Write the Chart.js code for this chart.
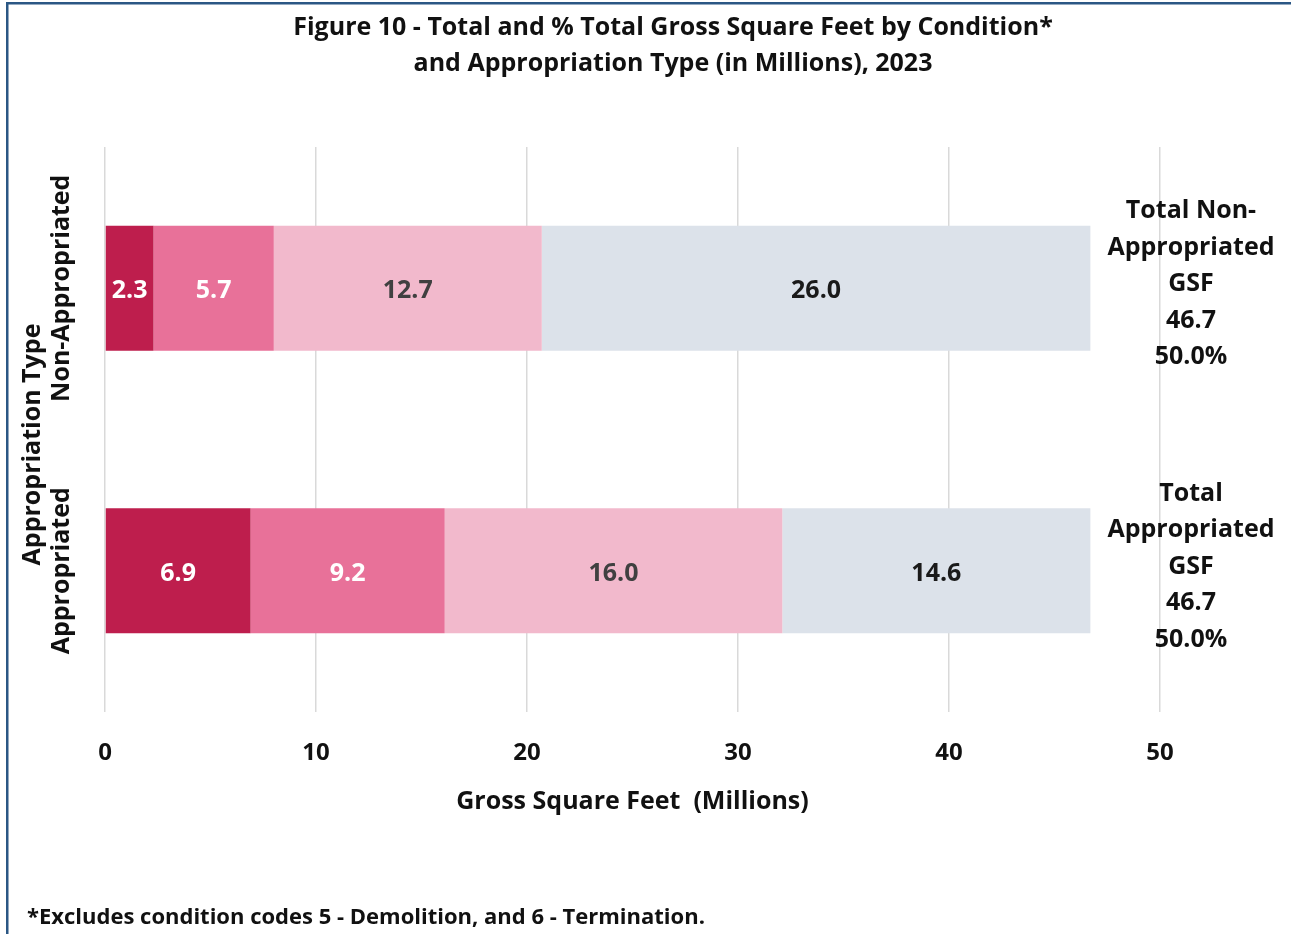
<!DOCTYPE html>
<html><head><meta charset="utf-8">
<script src="https://cdn.jsdelivr.net/npm/chart.js@4"></script>
<style>html,body{margin:0;padding:0;background:#fff;}#wrap{position:relative;width:1291px;height:934px;}</style>
</head><body><div id="wrap"><canvas id="c" width="1291" height="934"></canvas></div>
<script>
const categories = ["Non-Appropriated", "Appropriated"];
const seriesNames = ["Condition A", "Condition B", "Condition C", "Condition D"];
const cond1 = [2.3, 6.9];
const cond2 = [5.7, 9.2];
const cond3 = [12.7, 16.0];
const cond4 = [26.0, 14.6];
const xTicks = [0, 10, 20, 30, 40, 50];
const totalLabels = [["Total Non-", "Appropriated", "GSF"], ["Total", "Appropriated", "GSF"]];
const titleLines = ["Figure 10 - Total and % Total Gross Square Feet by Condition*", "and Appropriation Type (in Millions), 2023"];
const xTitle = "Gross Square Feet  (Millions)";
const yTitle = "Appropriation Type";
const footnote = "*Excludes condition codes 5 - Demolition, and 6 - Termination.";

const FONT = "'Open Sans', sans-serif";
const colors = ["#BE1E4D", "#E87199", "#F2B9CC", "#DCE2EA"];
const labelColors = ["#FFFFFF", "#FFFFFF", "#404040", "#1A1A1A"];
const seriesData = [cond1, cond2, cond3, cond4];

const textPlugin = {
  id: 'texts',
  beforeDraw(chart) {
    const ctx = chart.ctx;
    ctx.save();
    ctx.fillStyle = '#fff';
    ctx.fillRect(0, 0, chart.width, chart.height);
    ctx.fillStyle = '#2B5784';
    ctx.fillRect(6, 2, chart.width - 6, 2.5);
    ctx.fillRect(6, 2, 2.5, chart.height - 2);
    ctx.restore();
  },
  afterDraw(chart) {
    const ctx = chart.ctx;
    const area = chart.chartArea;
    const yScale = chart.scales.y;
    ctx.save();
    ctx.fillStyle = '#111';
    ctx.textAlign = 'center';
    ctx.textBaseline = 'middle';
    ctx.font = "bold 25px " + FONT;
    ctx.fillText(titleLines[0], 673, 28);
    ctx.fillText(titleLines[1], 673, 64);
    ctx.font = "bold 25px " + FONT;
    categories.forEach((c, i) => {
      const y = yScale.getPixelForValue(i);
      ctx.save();
      ctx.translate(62, y);
      ctx.rotate(-Math.PI / 2);
      ctx.fillText(c, 0, 0);
      ctx.restore();
    });
    ctx.save();
    ctx.translate(33, (area.top + area.bottom) / 2 + 15);
    ctx.rotate(-Math.PI / 2);
    ctx.fillText(yTitle, 0, 0);
    ctx.restore();
    ctx.font = "bold 25px " + FONT;
    chart.data.datasets.forEach((ds, d) => {
      const meta = chart.getDatasetMeta(d);
      meta.data.forEach((el, i) => {
        ctx.fillStyle = labelColors[d];
        ctx.fillText(ds.data[i].toFixed(1), (el.x + el.base) / 2, el.y + 3);
      });
    });
    const totals = categories.map((_, i) => seriesData.reduce((s, arr) => s + arr[i], 0));
    const grand = totals.reduce((a, b) => a + b, 0);
    ctx.fillStyle = '#111';
    ctx.font = "bold 25px " + FONT;
    categories.forEach((c, i) => {
      const lines = totalLabels[i].concat([totals[i].toFixed(1), (totals[i] / grand * 100).toFixed(1) + '%']);
      const yc = yScale.getPixelForValue(i) - 4;
      const lh = 36.5;
      lines.forEach((t, k) => {
        ctx.fillText(t, 1191, yc + (k - (lines.length - 1) / 2) * lh);
      });
    });
    ctx.textAlign = 'left';
    ctx.font = "bold 22px " + FONT;
    ctx.fillText(footnote, 27, 918);
    ctx.restore();
  }
};

new Chart(document.getElementById('c'), {
  type: 'bar',
  data: {
    labels: categories,
    datasets: seriesData.map((arr, d) => ({
      label: seriesNames[d],
      data: arr,
      backgroundColor: colors[d],
      borderWidth: 0,
      barPercentage: 0.442,
      categoryPercentage: 1.0
    }))
  },
  options: {
    indexAxis: 'y',
    responsive: false,
    devicePixelRatio: 1,
    animation: false,
    layout: { padding: { top: 147, left: 105, right: 131, bottom: 0 } },
    plugins: { legend: { display: false }, tooltip: { enabled: false }, title: { display: false } },
    scales: {
      y: { display: false, stacked: true },
      x: {
        stacked: true,
        min: 0, max: 50,
        afterBuildTicks: s => { s.ticks = xTicks.map(v => ({ value: v })); },
        afterFit: s => { s.height = 934 - 712; },
        grid: { color: '#D9D9D9', lineWidth: 1.5, drawTicks: false },
        border: { display: false },
        ticks: { padding: 27, color: '#111', font: { family: FONT, size: 24, weight: 'bold' } },
        title: {
          display: true, text: xTitle, color: '#111',
          font: { family: FONT, size: 25, weight: 'bold' },
          padding: { top: 0, bottom: 117 }
        }
      }
    }
  },
  plugins: [textPlugin]
});
</script></body></html>
